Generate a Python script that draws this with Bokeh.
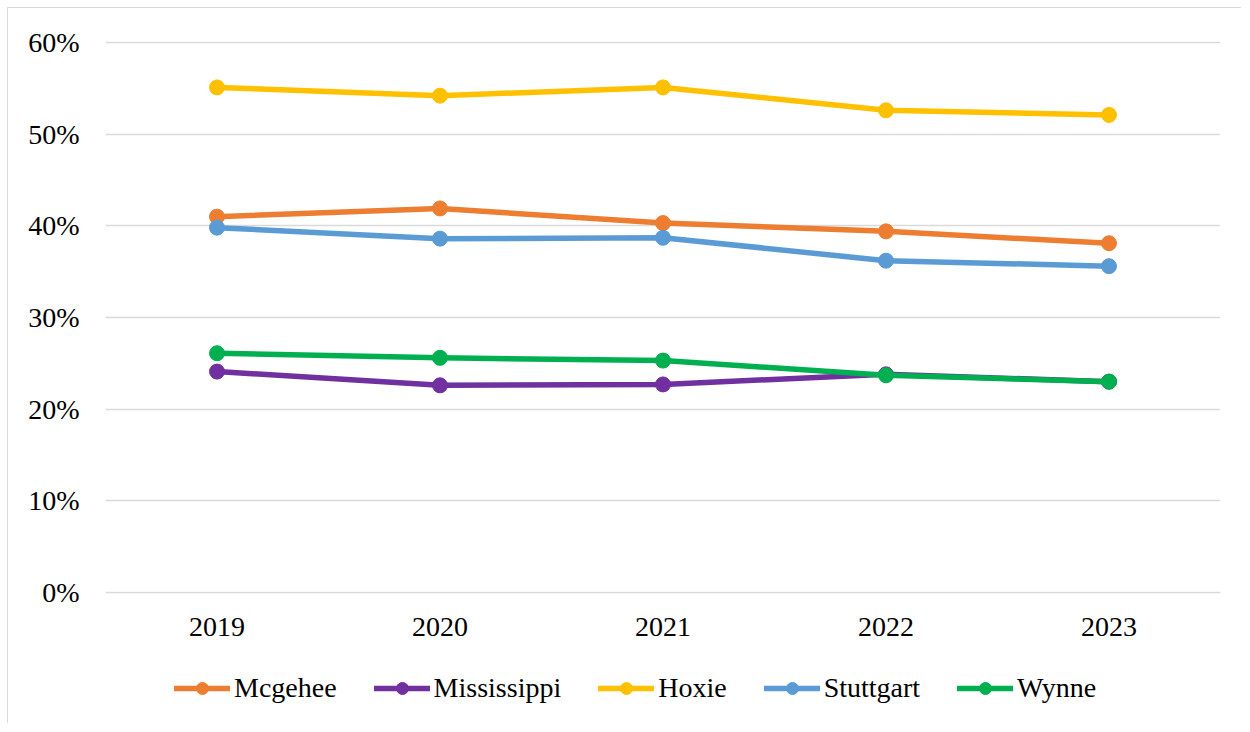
from bokeh.plotting import figure
from bokeh.models import Legend, LegendItem, NumeralTickFormatter, Range1d, FactorRange, FixedTicker
from bokeh.embed import file_html
from bokeh.resources import INLINE

years = ["2019", "2020", "2021", "2022", "2023"]
mcgehee = [0.410, 0.419, 0.403, 0.394, 0.381]
mississippi = [0.241, 0.226, 0.227, 0.238, 0.230]
hoxie = [0.551, 0.542, 0.551, 0.526, 0.521]
stuttgart = [0.398, 0.386, 0.387, 0.362, 0.356]
wynne = [0.261, 0.256, 0.253, 0.237, 0.230]
y_ticks = [0.0, 0.1, 0.2, 0.3, 0.4, 0.5, 0.6]

series = [
    ("Mcgehee", mcgehee, "#ED7D31"),
    ("Mississippi", mississippi, "#7030A0"),
    ("Hoxie", hoxie, "#FFC000"),
    ("Stuttgart", stuttgart, "#5B9BD5"),
    ("Wynne", wynne, "#00B050"),
]

FONT = "Liberation Serif"

p = figure(
    width=1234, height=716,
    x_range=FactorRange(*years, range_padding=0),
    y_range=Range1d(-0.1440, 0.60109),
    output_backend="svg", toolbar_location=None,
    min_border_left=97, min_border_right=22, min_border_top=33, min_border_bottom=0,
)
p.x_range.factor_padding = 0
p.styles = {"border-left": "1px solid #d9d9d9", "border-top": "1px solid #d9d9d9",
            "margin-left": "7px", "margin-top": "7px"}
p.outline_line_color = None
p.background_fill_color = "white"
p.border_fill_color = "white"

p.xgrid.grid_line_color = None
p.ygrid.grid_line_color = "#d9d9d9"
p.ygrid.grid_line_width = 1.5
p.yaxis.ticker = FixedTicker(ticks=y_ticks)
p.yaxis.formatter = NumeralTickFormatter(format="0%")
p.xaxis.fixed_location = 0

for ax in (p.xaxis, p.yaxis):
    ax.axis_line_color = None
    ax.major_tick_line_color = None
    ax.minor_tick_line_color = None
    ax.major_tick_out = 0
    ax.major_tick_in = 0
    ax.major_label_text_font = FONT
    ax.major_label_text_font_size = "28px"
    ax.major_label_text_color = "black"
p.yaxis.major_label_standoff = 26
p.xaxis.major_label_standoff = 26

items = []
for name, vals, color in series:
    r1 = p.line(years, vals, line_color=color, line_width=5.5, line_cap="round", line_join="round")
    r2 = p.scatter(years, vals, size=15, fill_color=color, line_color=color)
    items.append(LegendItem(label=name, renderers=[r1, r2]))

legend = Legend(
    items=items, orientation="horizontal", location=(69, 20),
    glyph_width=56, glyph_height=30, label_height=30, label_standoff=4,
    spacing=37, padding=0, margin=0,
    border_line_color=None, background_fill_alpha=0,
    label_text_font=FONT, label_text_font_size="28px", label_text_color="black",
)
p.add_layout(legend)

open("out.html", "w").write(file_html(p, INLINE))
